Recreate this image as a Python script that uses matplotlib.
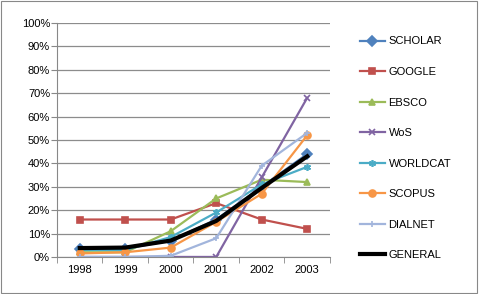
import matplotlib.pyplot as plt
from matplotlib.ticker import FixedLocator, PercentFormatter

plt.rcParams['font.family'] = ['Liberation Sans', 'DejaVu Sans']

years = ['1998', '1999', '2000', '2001', '2002', '2003']
scholar = [3.5, 3.5, 7, 16, 30, 44]
google = [16, 16, 16, 23, 16, 12]
ebsco = [2, 2, 11, 25, 33, 32]
wos = [0, 0, 0, 0, 34, 68]
worldcat = [3, 3, 8.5, 19, 31, 38.5]
scopus = [1.5, 2, 4, 15, 27, 52]
dialnet = [0, 0, 0.5, 8, 39, 53]
general = [3.8, 4, 7, 15.4, 29.5, 43]

series = [
    ('SCHOLAR', scholar, '#4F81BD', 'D'),
    ('GOOGLE', google, '#C0504D', 's'),
    ('EBSCO', ebsco, '#9BBB59', '^'),
    ('WoS', wos, '#8064A2', 'x'),
    ('WORLDCAT', worldcat, '#4BACC6', (6, 2, 0)),
    ('SCOPUS', scopus, '#F79646', 'o'),
    ('DIALNET', dialnet, '#A2B5DC', '+'),
]

fig = plt.figure(figsize=(4.81, 2.94), dpi=100)
ax = fig.add_axes([0.1185, 0.126, 0.5675, 0.796])
x = range(len(years))
for name, vals, col, mk in series:
    ax.plot(x, vals, color=col, marker=mk, markersize=5, lw=1.6, label=name,
            markeredgewidth=1.2)
ax.plot(x, general, color='black', lw=3, label='GENERAL')

ax.set_xlim(-0.5, 5.5)
ax.set_ylim(0, 100)
ax.set_xticks(list(x))
ax.set_xticklabels(years)
ax.xaxis.set_minor_locator(FixedLocator([i - 0.5 for i in range(7)]))
ax.tick_params(axis='x', which='major', length=0, pad=6, labelsize=8)
ax.tick_params(axis='x', which='minor', length=4, color='#888888', direction='out')
ax.set_yticks(range(0, 101, 10))
ax.yaxis.set_major_formatter(PercentFormatter(decimals=0))
ax.tick_params(axis='y', length=4, color='#888888', labelsize=8, pad=1)
ax.grid(axis='y', color='#8c8c8c', lw=0.9)
ax.set_axisbelow(True)
for s in ['top', 'right']:
    ax.spines[s].set_visible(False)
for s in ['left', 'bottom']:
    ax.spines[s].set_color('#888888')

fig.legend(loc='upper left', bbox_to_anchor=(0.727, 0.91), frameon=False,
           fontsize=8, labelspacing=1.85, handlelength=2.3, handletextpad=0.3)

border = plt.Rectangle((0.002, 0.003), 0.99, 0.994, transform=fig.transFigure,
                       fill=False, edgecolor='#888888', lw=0.8)
fig.patches.append(border)

fig.savefig('out.png', dpi=100)
